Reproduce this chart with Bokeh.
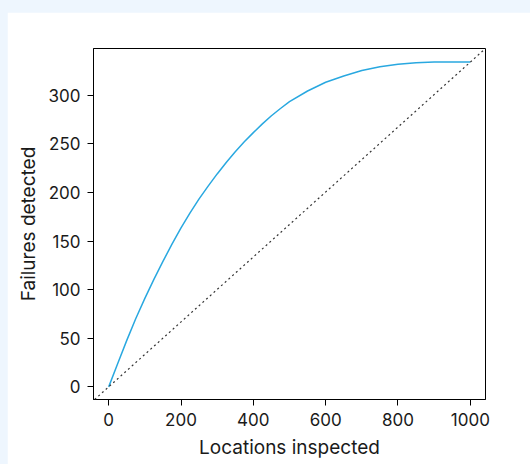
from bokeh.plotting import figure
from bokeh.layouts import column
from bokeh.models import Range1d, FixedTicker, Slope
from bokeh.embed import file_html
from bokeh.resources import INLINE

# Cumulative gains data
locations = [0, 25, 50, 75, 100, 125, 150, 175, 200, 225, 250, 275, 300,
             325, 350, 375, 400, 425, 450, 475, 500, 550, 600, 650, 700,
             750, 800, 850, 900, 950, 1000]
failures = [0, 24, 47.8, 70.3, 91, 110.5, 129, 146.8, 163.5, 179, 193.3,
            206.5, 219, 230.8, 241.8, 252, 261.5, 270.5, 278.8, 286.3, 293.3,
            304.3, 313.3, 319.8, 325.3, 329.3, 331.8, 333.3, 334, 334, 334]

# Random-inspection baseline
total_locations = 1000
total_failures = 334

x_ticks = [0, 200, 400, 600, 800, 1000]
y_ticks = [0, 50, 100, 150, 200, 250, 300]

FONT = "Inter"
TXT = "#1a1a1a"

p = figure(
    output_backend="svg", toolbar_location=None,
    frame_width=392, frame_height=351,
    min_border_left=86, min_border_right=45,
    min_border_top=36, min_border_bottom=65,
    x_range=Range1d(-42, 1042), y_range=Range1d(-13, 348),
    background_fill_color="white", border_fill_color="white",
)

p.line(locations, failures, line_color="#29a8e0", line_width=1.5)

p.add_layout(Slope(gradient=total_failures / total_locations, y_intercept=0,
                   line_color="#333333", line_width=1.2, line_dash="2 3"))

p.xgrid.visible = False
p.ygrid.visible = False
p.outline_line_color = "black"
p.outline_line_width = 1
p.outline_line_alpha = 1

p.xaxis.ticker = FixedTicker(ticks=x_ticks)
p.yaxis.ticker = FixedTicker(ticks=y_ticks)
p.xaxis.axis_label = "Locations inspected"
p.yaxis.axis_label = "Failures detected"

for ax in (p.xaxis, p.yaxis):
    ax.axis_line_color = "black"
    ax.major_tick_line_color = "black"
    ax.major_tick_in = 0
    ax.major_tick_out = 6
    ax.minor_tick_line_color = None
    ax.major_label_text_font = FONT
    ax.major_label_text_font_size = "17px"
    ax.major_label_text_color = TXT
    ax.axis_label_text_font = FONT
    ax.axis_label_text_font_size = "19px"
    ax.axis_label_text_font_style = "normal"
    ax.axis_label_text_color = TXT

p.xaxis.major_label_standoff = 7
p.yaxis.major_label_standoff = 7
p.xaxis.axis_label_standoff = 7
p.yaxis.axis_label_standoff = 6

page = column(p, styles={"background-color": "#eef6fe",
                         "padding-left": "7px", "padding-top": "12px"})

open("out.html", "w").write(file_html(page, INLINE))
